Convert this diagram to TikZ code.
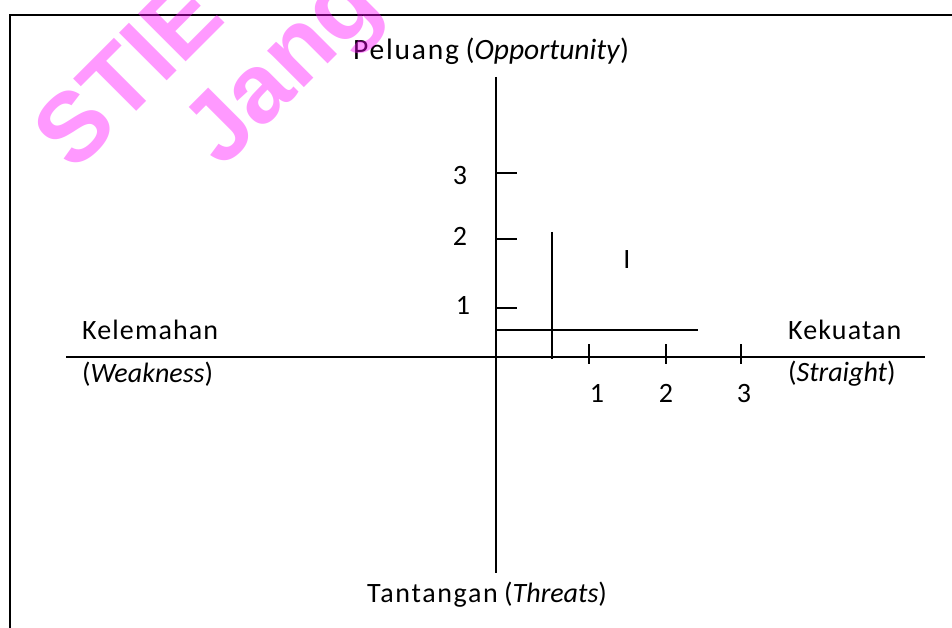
\documentclass[tikz,border=0pt]{standalone}
\usepackage{fontspec}
\setmainfont{Carlito}
\newfontfamily\spc[LetterSpace=4]{Carlito}
\newfontfamily\spcb[LetterSpace=6]{Carlito}
\newfontfamily\wmfont{Liberation Sans}
\definecolor{wmcol}{RGB}{255,0,255}
\begin{document}
\begin{tikzpicture}[x=1pt,y=-1pt,
  lbl/.style={inner sep=0pt, font=\fontsize{28}{32}\selectfont},
  biglbl/.style={inner sep=0pt, font=\fontsize{29.5}{34}\selectfont},
  axline/.style={line width=2.9pt},
  frameline/.style={line width=2.5pt},
  wmark/.style={inner sep=0pt, text=wmcol, text opacity=0.4, font=\wmfont\bfseries\fontsize{98}{110}\selectfont, rotate=45, anchor=base west}]
\useasboundingbox (0,0) rectangle (952,628);
\begin{scope}
\clip (0,0) rectangle (952,628);
% frame
\draw[frameline] (10,628) -- (10,15) -- (953,15);
% axes
\coordinate (xl) at (66,357);
\coordinate (xr) at (925,357);
\coordinate (yt) at (496,77);
\coordinate (yb) at (496,573);
\draw[axline] (xl) -- (xr);
\draw[axline] (yt) -- (yb);
% ticks on vertical axis
\coordinate (v3) at (496,173); \coordinate (v3e) at (517,173);
\coordinate (v2) at (496,239); \coordinate (v2e) at (517,239);
\coordinate (v1) at (496,308); \coordinate (v1e) at (517,308);
\draw[axline] (v3) -- (v3e);
\draw[axline] (v2) -- (v2e);
\draw[axline] (v1) -- (v1e);
% ticks on horizontal axis
\coordinate (h1a) at (589,344); \coordinate (h1b) at (589,364);
\coordinate (h2a) at (666,344); \coordinate (h2b) at (666,364);
\coordinate (h3a) at (741,344); \coordinate (h3b) at (741,364);
\draw[axline] (h1a) -- (h1b);
\draw[axline] (h2a) -- (h2b);
\draw[axline] (h3a) -- (h3b);
% inner lines
\coordinate (ia) at (496,330); \coordinate (ib) at (698,330);
\coordinate (ic) at (552,232); \coordinate (id) at (552,359);
\draw[axline] (ia) -- (ib);
\draw[axline] (ic) -- (id);
% labels
\node[biglbl, anchor=base west] (top) at (353,60) {{\spcb Peluang} (\textit{Opportunity})};
\node[lbl, anchor=base west] (bot) at (367,602) {{\spcb Tantangan} (\textit{Threats})};
\node[lbl, anchor=base west] (kel) at (82,339) {\spc Kelemahan};
\node[lbl, anchor=base west] (weak) at (82,382) {(\textit{Weakness})};
\node[lbl, anchor=base west] (kek) at (788,339) {\spc Kekuatan};
\node[lbl, anchor=base west] (str) at (788,381) {(\textit{Straight})};
\node[lbl, anchor=base] (n3) at (460,185) {3};
\node[lbl, anchor=base] (n2) at (460,246) {2};
\node[lbl, anchor=base] (n1) at (463,314) {1};
\node[lbl, anchor=base] (m1) at (597,402) {1};
\node[lbl, anchor=base] (m2) at (666,402) {2};
\node[lbl, anchor=base] (m3) at (744,402) {3};
\node[lbl, anchor=base] (quad) at (627,268) {I};
% watermark
\node[wmark] (wm1) at (74,174) {STIE};
\node[wmark] (wm2) at (222,170) {Jang};
\end{scope}
\end{tikzpicture}
\end{document}
